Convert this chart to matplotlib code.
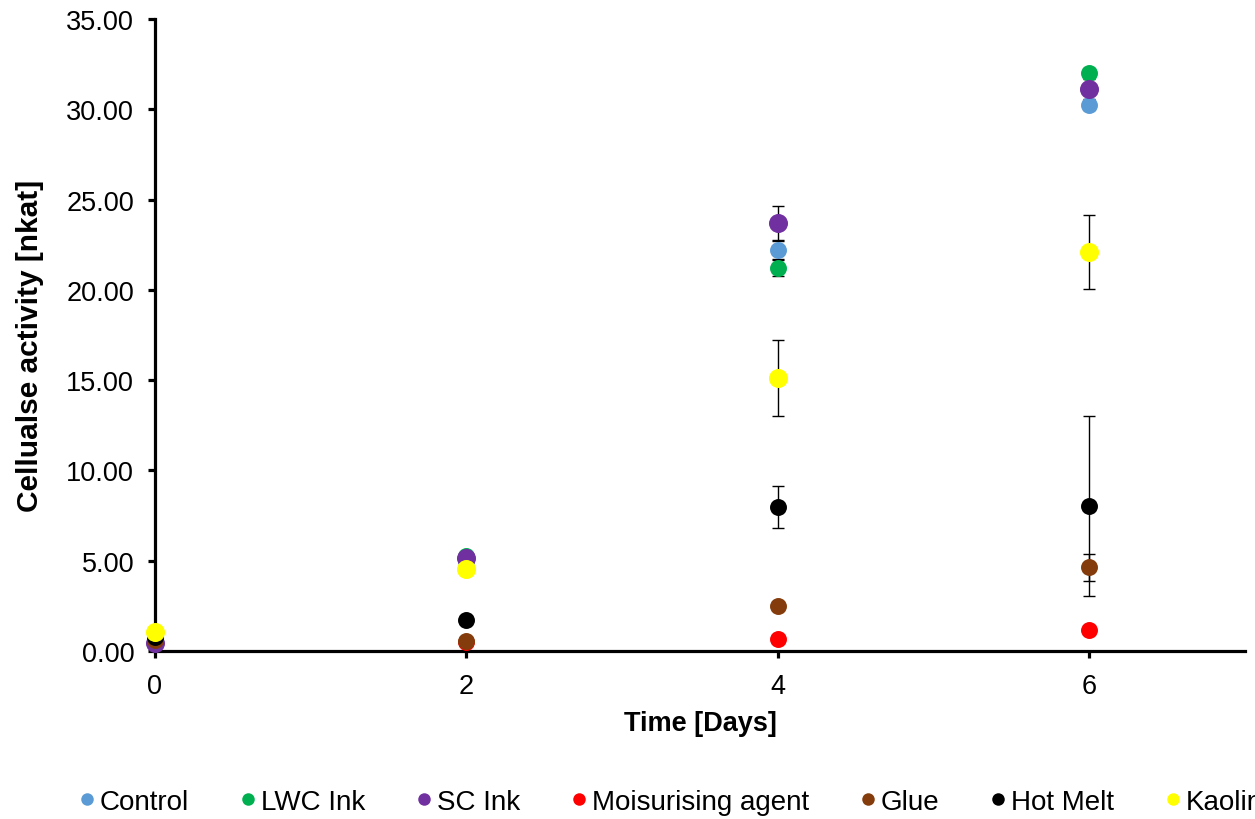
import matplotlib.pyplot as plt
import numpy as np

plt.rcParams['font.family'] = ['Liberation Sans', 'DejaVu Sans']

days = [0, 2, 4, 6]
names = ['Control', 'LWC Ink', 'SC Ink', 'Moisurising agent', 'Glue', 'Hot Melt', 'Kaolin']
colors = ['#5B9BD5', '#00B050', '#7030A0', '#FF0000', '#843C0C', '#000000', '#FFFF00']

control = [0.50, 5.00, 22.20, 30.25]
lwc_ink = [0.50, 5.25, 21.20, 32.00]
sc_ink = [0.44, 5.15, 23.70, 31.10]
moist = [0.66, 0.50, 0.66, 1.16]
glue = [0.60, 0.55, 2.49, 4.63]
hot_melt = [0.80, 1.72, 7.97, 8.04]
kaolin = [1.05, 4.54, 15.10, 22.10]

control_err = [0.05, 0.10, 0.50, 0.30]
lwc_err = [0.05, 0.10, 0.45, 0.30]
sc_err = [0.05, 0.10, 0.95, 0.30]
moist_err = [0.05, 0.05, 0.10, 0.10]
glue_err = [0.05, 0.05, 0.20, 0.74]
hot_melt_err = [0.05, 0.20, 1.15, 4.97]
kaolin_err = [0.05, 0.20, 2.10, 2.05]

series = [control, lwc_ink, sc_ink, moist, glue, hot_melt, kaolin]
errors = [control_err, lwc_err, sc_err, moist_err, glue_err, hot_melt_err, kaolin_err]
sizes = [12.2, 12.2, 13.7, 12.2, 12.2, 12.2, 13.7]

fig = plt.figure(figsize=(12.55, 8.2), dpi=100)
ax = fig.add_axes([0.1235, 0.2049, 0.8685, 0.7707])

for i, (vals, err) in enumerate(zip(series, errors)):
    ax.errorbar(days, vals, yerr=err, fmt='none', ecolor='black', elinewidth=1.0,
                capsize=4.3, capthick=1.0, zorder=2)
    ax.plot(days, vals, 'o', color=colors[i], markersize=sizes[i],
            markeredgewidth=0, linestyle='none', zorder=3 + i, clip_on=False)

ax.set_xlim(0, 7)
ax.set_ylim(0, 35)
ax.set_xticks([0, 2, 4, 6])
ax.set_yticks(np.arange(0, 35.1, 5))
ax.set_yticklabels([f'{v:.2f}' for v in np.arange(0, 35.1, 5)])
ax.spines['top'].set_visible(False)
ax.spines['right'].set_visible(False)
ax.spines['left'].set_linewidth(2.3)
ax.spines['bottom'].set_linewidth(2.3)
ax.tick_params(axis='both', direction='out', length=5, width=2.3, labelsize=19.5)
ax.tick_params(axis='y', pad=10)
ax.tick_params(axis='x', pad=11)

ax.set_xlabel('Time [Days]', fontsize=19.5, fontweight='bold', labelpad=7.5)
ax.set_ylabel('Cellualse activity [nkat]', fontsize=21.5, fontweight='bold')
ax.yaxis.set_label_coords(-0.102, 0.484)

# legend runs off the right edge, as in the original
legend_handles = [plt.Line2D([], [], marker='o', linestyle='none', color=c,
                             markersize=9, markeredgewidth=0) for c in colors]
fig.legend(legend_handles, names, loc='center left', bbox_to_anchor=(0.063, 0.021),
           ncol=7, frameon=False, fontsize=20, handlelength=0.6, handletextpad=0.15,
           columnspacing=1.83, borderaxespad=0, borderpad=0)

fig.savefig('out.png', dpi=100)
